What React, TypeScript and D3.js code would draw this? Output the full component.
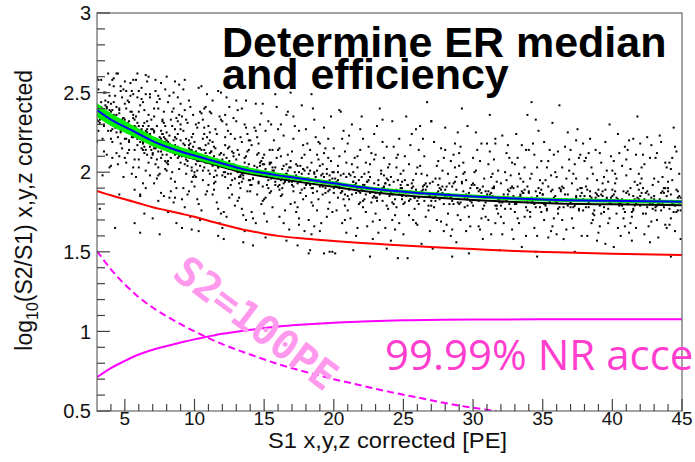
import React from 'react';
import * as d3 from 'd3';

const W = 695;
const H = 462;

// axis ticks
const xMajorTicks = [5, 10, 15, 20, 25, 30, 35, 40, 45];
const xTickLabels = ['5', '10', '15', '20', '25', '30', '35', '40', '45'];
const yMajorTicks = [0.5, 1, 1.5, 2, 2.5, 3];
const yTickLabels = ['0.5', '1', '1.5', '2', '2.5', '3'];

// ER median fit (blue), green band half width, dark lower edge
const medianX = [3, 4, 5, 6, 7, 8, 9, 10, 11, 12, 13, 14, 15, 16, 17, 18, 20, 22, 24, 26, 28, 30, 33, 36, 40, 45];
const medianY = [2.39, 2.33, 2.285, 2.24, 2.195, 2.16, 2.13, 2.105, 2.08, 2.055, 2.03, 2.01, 1.995, 1.98, 1.968, 1.955, 1.93, 1.905, 1.885, 1.87, 1.858, 1.848, 1.835, 1.826, 1.82, 1.814];
const bandHalf = [0.044, 0.04, 0.037, 0.034, 0.032, 0.03, 0.028, 0.026, 0.024, 0.022, 0.02, 0.018, 0.017, 0.016, 0.015, 0.014, 0.013, 0.012, 0.012, 0.012, 0.012, 0.012, 0.012, 0.012, 0.012, 0.012];
const lowerEdgeY = [2.36, 2.3, 2.26, 2.215, 2.172, 2.138, 2.108, 2.083, 2.058, 2.033, 2.008, 1.988, 1.973, 1.958, 1.946, 1.933, 1.908, 1.883, 1.863, 1.848, 1.836, 1.826, 1.813, 1.804, 1.798, 1.792];

// red line
const redX = [3, 4, 5, 6, 7, 8, 9, 10, 11, 12, 13, 14, 15, 16, 18, 20, 22, 24, 26, 28, 30, 33, 36, 40, 45];
const redY = [1.883, 1.855, 1.83, 1.805, 1.78, 1.76, 1.74, 1.72, 1.695, 1.672, 1.65, 1.63, 1.614, 1.6, 1.582, 1.568, 1.555, 1.545, 1.535, 1.525, 1.517, 1.505, 1.497, 1.488, 1.48];

// 99.99% NR acceptance (solid magenta)
const nrX = [3, 4, 5, 6, 7, 8, 9, 10, 11, 12, 13, 14, 15, 17, 20, 22, 25, 30, 35, 40, 45];
const nrY = [0.713, 0.77, 0.815, 0.855, 0.885, 0.908, 0.93, 0.95, 0.968, 0.985, 0.998, 1.01, 1.022, 1.038, 1.055, 1.062, 1.07, 1.075, 1.076, 1.077, 1.077];

// S2 = 100 PE (dashed magenta)
const s2X = [3, 4, 5, 6, 7, 8, 9, 10, 12, 14, 16, 18, 20, 22, 24, 26, 28, 30, 31.7];
const s2Y = [1.505, 1.39, 1.295, 1.215, 1.15, 1.095, 1.045, 1.0, 0.92, 0.855, 0.795, 0.745, 0.7, 0.66, 0.62, 0.585, 0.55, 0.52, 0.5];

// scatter points, one string per unit of S1 starting at scatterStart.
// each code "Xyyy": S1 = bin + X/10, log10(S2/S1) = yyy/100
const scatterStart = 3;
const scatterBins = [
  '3241 8226 0259 5213 1258 7234 4198 9248 2231 6250 0219 3258 7240 5229 9203 1252 8237 4221 6245 2177 0233 9255 5250 7211 3244 1226',
  '6237 1219 9252 3228 0204 7254 4241 8215 2232 5262 0226 9197 3248 6210 1239 7225 4262 8233 5205 2254 9229 0243 6186 3235 7218 1258 5230 8247 4212 2259 0221 6240 9234 3165 7251 1209 8228 4236 5222 2244',
  '2231 7208 4256 9221 0243 5199 8235 1228 6249 3214 9247 0221 7189 4238 2212 8258 5226 1240 6203 3232 0257 9217 7229 4182 2245 8223 5251 1206 6236 3219 9262 0233 7214 4248 2225 8197 5238 1251 6222 3244 0209 9231 7168 4227',
  '5226 0203 8247 3219 6232 1185 9214 4239 7206 2253 5221 0251 8198 3229 6211 1242 9227 4174 7236 2215 5249 0208 8224 3193 6257 1219 9233 4212 7260 2227 5201 0238 8216 3244 6225 1162 9209 4231 7220 2246 5190 0229 8249 3214',
  '9221 4198 1240 6213 3229 8185 0217 5246 2205 7232 4219 9252 1193 6226 3208 8238 0171 5222 2251 7211 9229 4203 1235 6187 3244 8216 0227 5199 2258 7224 9207 4240 1215 6256 3196 8231 0212 5161 2221 7233 9202 4248 1226 6209',
  '1216 6194 3233 8209 0225 5181 2248 7212 4200 9236 1219 6257 3188 8224 0206 5240 2214 7168 4229 9202 1244 6217 3196 8232 0211 5250 2223 7190 4238 9210 1175 6227 3215 8247 0201 5220 2184 7234 4213 9255 1205 6222',
  '7214 2190 5231 0206 8222 3178 6245 1210 9197 4233 7218 2252 5186 0227 8203 3239 6215 1165 9224 4199 7241 2212 5204 0230 8194 3258 6220 1183 9236 4208 7172 2226 5212 0243 8201 3217 6188 1235 9209 4221',
  '4211 9188 2228 7203 0219 5176 8241 3207 6195 1230 4215 9249 2183 7224 0200 5237 8212 3163 6221 1197 4238 9209 2201 7228 0191 5254 8217 3180 6233 1205 4170 9222 2210 7240 0198 5214 8186 3231',
  '8207 3186 6224 1199 4216 9174 2237 7203 0192 5227 8211 3245 6181 1220 4197 9233 2208 7160 0218 5194 8235 3205 6198 1225 4189 9250 2213 7177 0229 5201 8168 3219 6206 1238 4193 9212',
  '0205 5184 9221 2197 7213 3172 8234 1200 4190 6224 0208 5241 9179 2217 7195 3230 8205 1158 4215 6192 0232 5202 9196 2222 7186 3247 8210 1175 4226 6199 0165 5216 9203 2236',
  '6203 1182 4219 9195 2211 7170 0232 5198 8188 3222 6206 1239 4177 9214 2193 7228 0202 5156 8213 3190 6230 1200 4194 9220 2184 7245 0208 5173 8224 3197 6163 1214',
  '3201 8180 1217 6193 9209 4168 7230 2196 5186 0220 3204 8237 1175 6212 9191 4226 7200 2154 5211 0188 3228 8198 1192 6218 9182 4243 7206 2171 5222 0195',
  '0211 4187 8203 1226 6178 3195 9241 5206 2169 7199 0183 4214 8192 3232 6201 1159 9209 5188 2197 7220 0174 4205 8249 3190 6214 1184 9198 5230',
  '3186 9207 1172 6199 4223 0191 8164 2210 5195 7238 3202 9180 1215 6157 4193 0227 8203 2185 5176 7211 3196 9250 1189 6205 4168 0214 8194 2230',
  '7209 2181 5226 0197 9163 4204 1188 8217 3175 6196 7242 2200 5171 0213 9190 4154 1221 8183 3205 6187 7199 2229 5167 0192 9211 4178 1235 8202',
  '5190 1218 8176 3201 6233 0185 9208 4161 2196 7222 5179 1193 8211 3151 6199 0227 9183 4206 2170 7195 5240 1203 8188 3214 6166 0192 9219 4181',
  '2205 6177 9196 4215 0163 7189 3228 1198 5172 8207 2186 6221 9150 4193 0204 7181 3212 1168 5199 8235 2191 6209 9175 4187 0218 7198',
  '8179 3204 0187 6221 1196 9162 4210 7183 2194 5238 8170 3200 0215 6188 1149 9206 4191 7226 2176 5198 8213 3184 0190 6168',
  '4200 9181 1223 7165 2192 5209 0176 8195 3230 6187 4151 9214 1189 7203 2171 5197 0218 8180 3205 6160 4194 9227 1183 7210',
  '1178 6205 3190 9224 4166 0197 7212 2183 8158 5200 1221 6187 3175 9208 4194 0235 7181 2199 8169 5216 1192 6147 3206 9185',
  '6198 0174 8216 4189 2162 9203 5182 1229 7193 3170 6209 0187 8152 4201 2195 9177 5219 1184 7165 3240 6190 0211 8179 4199',
  '9185 5203 2170 7221 0192 4164 8199 3180 6211 1157 9194 5178 2232 7188 0205 4173 8190 3216 6146 1197 9183 5209 2186 7168',
  '3192 7170 1210 5183 9199 0161 6224 2188 8177 4205 3146 7195 1181 5217 9168 0201 6190 2235 8184 4173',
  '8176 2204 6189 0167 4221 9193 1180 5210 3155 7198 8186 2229 6172 0203 4191 9163 1214 5182 3199 7244',
  '5207 1184 9163 3196 7215 2178 6190 0232 4170 8201 5188 1152 9209 3182 7169 2219 6196 0179 4204 8187',
  '0189 6211 2174 8197 4160 9225 3186 7203 1167 5191 0214 6180 2199 8156 4207 9173 3193 7218 1185 5164',
  '7172 3199 9185 1216 5163 0204 8190 4178 6229 2194 7149 3206 9181 1170 5195 0212 8166 4200 6183 2240',
  '2201 8179 4166 0193 6218 1185 9172 5207 3190 7158 2225 8196 4182 0209 6171 1200 9188 5164 3214 7191',
  '9183 5208 1170 7194 3161 6221 0186 4199 8174 2213 9151 5190 1205 7179 3197 6168 0218 4185 8201 2236',
  '4195 0172 6209 2186 8164 3200 7177 1223 5189 9158 4212 0193 6180 2168 8206 3184 7198 1161 5217 9190',
  '1180 7203 3168 9191 5217 0175 4196 8160 2209 6187 1224 7172 3199 9181 5153 0205 4186 8214 2171 6194',
  '6203 2181 8195 4165 0214 5188 1172 9207 3183 7226 6160 2199 8178 4211 0187 5150 1196 9175 3218 7190',
  '0186 4207 8171 2195 6163 1219 5182 9200 3176 7231 0193 4159 8211 2180 6198 1170 5214 9185 3203 7166',
  '5178 9201 3189 7164 1213 6182 0197 4170 8225 2190 5158 9208 3183 7196 1174 6216 0161 4203 8186 2242',
  '2199 6176 0214 4185 8160 3205 7190 1171 5227 9183 2165 6209 0178 4196 8187 3150 7211 1193 5180 9218',
  '7182 1209 5168 9195 3178 8214 2160 6199 0185 4221 7173 1191 5203 9157 3212 8184 2196 6170 0207 4188',
  '3193 8171 2206 6184 0162 5219 9180 4197 7168 1212 3185 8230 2174 6201 0189 5155 9210 4178 7194 1166',
  '8188 4165 0201 5179 9216 2193 6160 1207 7183 3196 8171 4224 0185 5212 9166 2199 6181 1153 7204 3174',
  '4172 0198 6183 1214 7165 3202 9189 5176 2220 8192 4157 0208 6194 1180 7211 3168 9199 5185 2162 8235',
  '1203 5178 9192 3161 7209 0185 4174 8217 2190 6166 1196 5222 9180 3205 7156 0193 4187 8169 2211 6182',
  '6180 2212 8167 0196 4183 9203 3159 7190 1176 5219 6197 2170 8206 0185 4223 9165 3194 7178 1209 5187',
  '9176 3195 7184 1206 5163 0190 6213 2171 8199 4181 9158 3209 7188 1167 5216 0194 6175 2202 8185 4228',
];

// dense core of points close to the median, same coding
const scatterCore = [
  '1232 6242 3234 9239 5230 0237 7241 4235 8244 2233',
  '9234 4225 6239 1227 8231 2236 5229 0238 3230 7226',
  '2225 7233 5222 0229 3220 8228 6234 9223 4227 1221',
  '6227 1221 4216 8224 7229 3218 0225 5214 9222 2226',
  '0211 5220 2215 7224 9219 4213 8222 3217 1225 6221',
  '8216 3209 7221 5213 2218 1207 4215 6211 0220 9212',
  '4210 9216 1213 3205 6217 7209 2218 8214 5207 0220',
  '3215 8206 0211 6201 1213 9210 4204 7214 2207 5209',
  '7203 2213 9205 4210 0201 6208 1212 8206 5215 3204',
  '5207 0198 8212 2200 6204 3209 9202 1211 7203 4199',
  '1201 6209 3198 9205 5196 0204 7210 4199 8203 2197',
  '9205 4199 6194 1202 8207 2196 5203 0192 3200 7204',
  '2192 7201 5196 0205 3200 8194 6203 9198 4206 1202',
  '6199 1192 4204 8196 7201 3190 0198 5194 9203 2195',
  '0194 5200 2197 7189 9201 4193 8202 3198 1191 6204',
  '8201 3192 7197 5187 2199 1196 4190 6200 0193 9195',
  '4190 9200 1192 3197 6188 7195 2199 8193 5202 0191',
  '3195 8186 0200 6188 1192 9197 4190 7199 2191 5187',
  '7190 2198 9187 4194 0185 6193 1199 8188 5192 3186',
  '5195 0189 8184 2192 6197 3186 9193 1182 7190 4194',
  '1182 6191 3186 9195 5190 0184 7193 4188 8196 2192',
  '9190 4183 6195 1187 8192 2181 5189 0185 3194 7186',
  '2185 7191 5188 0180 3192 8184 6193 9189 4182 1195',
  '6193 1184 4189 8179 7191 3188 0182 5192 9185 2187',
  '0182 5192 2184 7189 9180 4187 8191 3185 1194 6183',
  '8189 3180 7194 5182 2186 1191 4184 6193 0185 9181',
  '4184 9192 1181 3188 6179 7187 2193 8182 5186 0180',
  '3190 8184 0179 6187 1192 9181 4188 7177 2185 5189',
  '7177 2186 9181 4190 0185 6179 1188 8183 5191 3187',
  '5186 0179 8191 2183 6188 3177 9185 1181 7190 4182',
  '1181 6187 3184 9176 5188 0180 7189 4185 8178 2191',
  '9189 4180 6185 1175 8187 2184 5178 0188 3181 7183',
  '2179 7189 5181 0186 3177 8184 6188 9182 4191 1180',
  '6186 1177 4191 8179 7183 3188 0181 5190 9182 2178',
  '0181 5189 2178 7185 9176 4184 8190 3179 1183 6177',
  '8187 3181 7176 5184 2189 1178 4185 6174 0182 9186',
  '4175 9184 1179 3188 6183 7177 2186 8181 5189 0185',
  '3184 8177 0189 6181 1186 9175 4183 7179 2188 5180',
  '7180 2186 9183 4175 0187 6179 1188 8184 5177 3190',
  '5188 0179 8184 2174 6186 3183 9177 1187 7180 4182',
  '1178 6188 3180 9185 5176 0183 7187 4181 8190 2179',
  '9184 4175 6189 1177 8181 2186 5179 0188 3180 7176',
];

// isolated points far from the band
const outlierX = [13.0, 13.4, 18.4, 20.4, 27.0, 28.0, 31.6, 34.2, 33.9, 34.5, 37.4, 41.5, 42.0, 34.6, 44.2, 28.5, 18.2, 19.3, 19.7, 9.8, 3.8, 6.5, 8.0, 5.6, 10.3, 11.7, 14.9, 16.6, 23.5, 25.9, 6.1, 7.4, 8.6];
const outlierY = [2.45, 2.4, 2.49, 2.39, 2.32, 2.28, 2.18, 2.44, 2.36, 2.33, 2.2, 2.21, 2.18, 1.47, 1.47, 1.47, 1.49, 1.49, 1.5, 1.64, 2.62, 2.61, 2.6, 2.58, 2.53, 2.51, 2.43, 2.36, 2.33, 2.27, 1.86, 1.82, 1.84];

function decodeBins(list: string[], pts: [number, number][]) {
  list.forEach((s, bi) => {
    const bin = scatterStart + bi;
    s.split(/\s+/)
      .filter((c) => c.length === 4)
      .forEach((c) => {
        pts.push([bin + Number(c[0]) / 10, Number(c.slice(1)) / 100]);
      });
  });
}

function allPoints(): [number, number][] {
  const pts: [number, number][] = [];
  decodeBins(scatterBins, pts);
  decodeBins(scatterCore, pts);
  outlierX.forEach((v, i) => pts.push([v, outlierY[i]]));
  return pts;
}

const FONT = "'Liberation Sans', Arial, Helvetica, sans-serif";

export default function App() {
  const left = 97, right = 682, top = 13, bottom = 411;
  const x = d3.scaleLinear().domain([3, 45]).range([left, right]);
  const y = d3.scaleLinear().domain([0.5, 3]).range([bottom, top]);

  const points = allPoints();

  const smooth = d3
    .line<[number, number]>()
    .x((d) => x(d[0]))
    .y((d) => y(d[1]))
    .curve(d3.curveMonotoneX);

  const zip = (xs: number[], ys: number[]) => xs.map((v, i) => [v, ys[i]] as [number, number]);

  const band = d3
    .area<number>()
    .x((i) => x(medianX[i]))
    .y0((i) => y(medianY[i] - bandHalf[i]))
    .y1((i) => y(medianY[i] + bandHalf[i]))
    .curve(d3.curveMonotoneX);
  const idx = medianX.map((_, i) => i);

  const xMinor = d3.range(4, 45, 1).filter((v) => v % 5 !== 0);
  const yMinor = d3.range(6, 30, 1).map((v) => v / 10).filter((v) => Math.abs((v * 2) % 1) > 1e-6);

  return (
    <svg width={W} height={H} style={{ position: 'absolute', left: 0, top: 0, background: '#fff' }}>
      <rect x={0} y={0} width={W} height={H} fill="#fff" />
      <defs>
        <clipPath id="plotclip">
          <rect x={left} y={top} width={right - left} height={bottom - top} />
        </clipPath>
      </defs>

      <g clipPath="url(#plotclip)">
        {points.map((p, i) => (
          <rect key={i} x={x(p[0]) - 1} y={y(p[1]) - 1} width={2} height={2} fill="#000" />
        ))}
        <path d={smooth(zip(redX, redY)) || ''} fill="none" stroke="#ff0000" strokeWidth={2} />
        <path d={smooth(zip(nrX, nrY)) || ''} fill="none" stroke="#ff00ff" strokeWidth={2} />
        <path d={smooth(zip(s2X, s2Y)) || ''} fill="none" stroke="#ff00ff" strokeWidth={2} strokeDasharray="7,4" />
        <path d={smooth(zip(medianX, lowerEdgeY)) || ''} fill="none" stroke="#000" strokeWidth={2} />
        <path d={band(idx) || ''} fill="#00f000" stroke="none" />
        <path d={smooth(zip(medianX, medianY)) || ''} fill="none" stroke="#0000ff" strokeWidth={2} />
      </g>

      {/* frame */}
      <rect x={left} y={top} width={right - left} height={bottom - top} fill="none" stroke="#666" strokeWidth={1.2} />

      {/* x ticks */}
      {xMajorTicks.map((t) => (
        <line key={'xM' + t} x1={x(t)} x2={x(t)} y1={bottom} y2={bottom - 12} stroke="#444" strokeWidth={1.2} />
      ))}
      {xMinor.map((t) => (
        <line key={'xm' + t} x1={x(t)} x2={x(t)} y1={bottom} y2={bottom - 7} stroke="#444" strokeWidth={1.2} />
      ))}
      {xMajorTicks.map((t, i) => (
        <text key={'xl' + t} x={x(t)} y={425} textAnchor="middle" fontFamily={FONT} fontSize={19} fill="#111">
          {xTickLabels[i]}
        </text>
      ))}

      {/* y ticks */}
      {yMajorTicks.map((t) => (
        <line key={'yM' + t} x1={left} x2={left + 13} y1={y(t)} y2={y(t)} stroke="#444" strokeWidth={1.2} />
      ))}
      {yMinor.map((t) => (
        <line key={'ym' + t} x1={left} x2={left + 8} y1={y(t)} y2={y(t)} stroke="#444" strokeWidth={1.2} />
      ))}
      {yMajorTicks.map((t, i) => (
        <text key={'yl' + t} x={91} y={y(t)} dy="0.36em" textAnchor="end" fontFamily={FONT} fontSize={20} fill="#111">
          {yTickLabels[i]}
        </text>
      ))}

      {/* axis titles */}
      <text x={268} y={448} textLength={239} lengthAdjust="spacingAndGlyphs" fontFamily={FONT} fontSize={22} fill="#111">
        S1 x,y,z corrected [PE]
      </text>
      <text transform="translate(32,70) rotate(-90)" textAnchor="end" fontFamily={FONT} fontSize={23} fill="#111">
        log
        <tspan fontSize={16} dy={6}>10</tspan>
        <tspan dy={-6}>(S2/S1) x,y,z corrected</tspan>
      </text>

      {/* title */}
      <text fontFamily={FONT} fontWeight="bold" fontSize={43} fill="#000">
        <tspan x={222} y={57}>Determine ER median</tspan>
        <tspan x={222} y={89}>and efficiency</tspan>
      </text>

      {/* annotations */}
      <text
        transform="translate(256,323) rotate(37)"
        textAnchor="middle"
        dominantBaseline="central"
        fontFamily="'DejaVu Sans Mono', monospace"
        fontWeight="bold"
        fontSize={40}
        fill="#ff99ee"
      >
        S2=100PE
      </text>
      <text x={385} y={370} fontFamily="'Open Sans', 'Noto Sans', sans-serif" fontSize={42} fill="#ff3dcf">
        99.99% NR acce
      </text>
    </svg>
  );
}
